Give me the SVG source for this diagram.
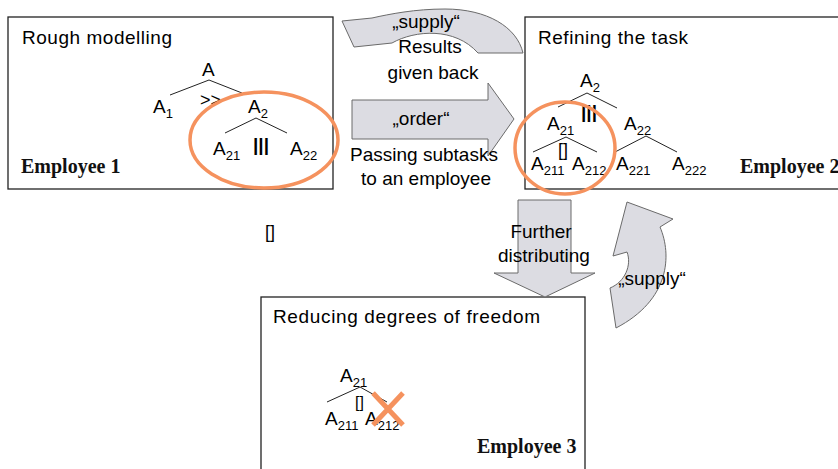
<svg xmlns="http://www.w3.org/2000/svg" width="838" height="469" viewBox="0 0 838 469">
<style>
.box{fill:#fff;stroke:#222;stroke-width:1.3}
.arrow{fill:#DCDCE2;stroke:#6a6a6a;stroke-width:1}
.sans{font-family:"Liberation Sans",Arial,sans-serif;fill:#000}
.title{font-size:19px}
.emp{font-family:"Liberation Serif","Times New Roman",serif;font-weight:bold;font-size:20px;fill:#111}
.t{font-size:19px}
.sub{font-size:13px}
.lbl{font-size:19px;text-anchor:middle}
.edge{stroke:#222;stroke-width:1;fill:none}
.ring{fill:none;stroke:#F5925E;stroke-width:3.5}
.cross{stroke:#F5925E;stroke-width:5;stroke-linecap:butt}
</style>
<rect width="838" height="469" fill="#fff"/>

<g id="box1">
<rect class="box" x="8" y="17" width="325" height="172"/>
<text class="sans title" x="22" y="44" textLength="150">Rough modelling</text>
<text class="emp" x="21" y="173">Employee 1</text>
<text class="sans t" x="202" y="76">A</text>
<path class="edge" d="M209,80 L170,95 M209,80 L242,93"/>
<text class="sans t" x="153" y="113">A<tspan class="sub" dy="5">1</tspan></text>
<text class="sans" font-size="18" x="200" y="106">&gt;&gt;</text>
<text class="sans t" x="248" y="113">A<tspan class="sub" dy="5">2</tspan></text>
<path class="edge" d="M256,118 L225,133 M256,118 L287,133"/>
<text class="sans t" x="213" y="155">A<tspan class="sub" dy="5">21</tspan></text>
<text class="sans t" font-weight="bold" x="253" y="151">|||</text>
<text class="sans t" x="290" y="155">A<tspan class="sub" dy="5">22</tspan></text>
</g>

<g id="box2">
<rect class="box" x="525" y="17" width="320" height="172"/>
<text class="sans title" x="538" y="44" textLength="150">Refining the task</text>
<text class="emp" x="740" y="173">Employee 2</text>
<text class="sans t" x="580" y="87">A<tspan class="sub" dy="5">2</tspan></text>
<path class="edge" d="M587,93 L558,107 M587,93 L617,108"/>
<text class="sans t" font-weight="bold" x="581" y="118">|||</text>
<text class="sans t" x="547" y="130">A<tspan class="sub" dy="5">21</tspan></text>
<text class="sans t" x="624" y="130">A<tspan class="sub" dy="5">22</tspan></text>
<path class="edge" stroke="#555" d="M566,137 L533,152 M566,137 L597,152 M646,136 L615,152 M646,136 L677,152"/>
<text class="sans" font-size="18" x="558" y="156">[]</text>
<text class="sans t" x="531" y="170">A<tspan class="sub" dy="5">211</tspan></text>
<text class="sans t" x="572" y="170">A<tspan class="sub" dy="5">212</tspan></text>
<text class="sans t" x="616" y="170">A<tspan class="sub" dy="5">221</tspan></text>
<text class="sans t" x="672" y="170">A<tspan class="sub" dy="5">222</tspan></text>
</g>

<g id="box3">
<rect class="box" x="261" y="297" width="324" height="180"/>
<text class="sans title" x="273" y="323" textLength="267">Reducing degrees of freedom</text>
<text class="emp" x="477" y="453">Employee 3</text>
<text class="sans t" x="340" y="382">A<tspan class="sub" dy="5">21</tspan></text>
<path class="edge" d="M360,387 L327,402 M360,387 L387,402"/>
<text class="sans" font-size="16" x="355" y="408">[]</text>
<text class="sans t" x="325" y="425">A<tspan class="sub" dy="5">211</tspan></text>
<text class="sans t" x="365" y="425">A<tspan class="sub" dy="5">212</tspan></text>
<path class="cross" d="M373,393 L403,425 M403,393 L373,425"/>
</g>

<g id="loose-bracket">
<text class="sans" font-size="18" x="265" y="238">[]</text>
</g>

<g id="connectors">
<path id="supply-top" class="arrow" d="M523,53 C517,27 487,9 445,9 C415,9 390,14 372,18 L342,21 L354,47 L392,43 C415,30 455,27 478,53 Z"/>
<path id="order" class="arrow" d="M352,100 L488,100 L488,83 L514,119 L488,156 L488,139 L352,139 Z"/>
<path id="further" class="arrow" d="M518,200 L571,200 L571,273 L595,273 L545,297 L494,273 L518,273 Z"/>
<path id="supply-right" class="arrow" d="M627,202 L673,219 L660,227 C672,255 670,300 616,328 L610,288 C625,282 632,265 627,252 L613,256 Z"/>
<text class="sans lbl" x="426" y="28">&#8222;supply&#8220;</text>
<text class="sans lbl" x="430" y="53">Results</text>
<text class="sans lbl" x="433" y="79">given back</text>
<text class="sans lbl" x="421" y="125">&#8222;order&#8220;</text>
<text class="sans lbl" x="424" y="161">Passing subtasks</text>
<text class="sans lbl" x="426" y="185">to an employee</text>
<text class="sans lbl" x="541" y="238">Further</text>
<text class="sans lbl" x="544" y="262">distributing</text>
<text class="sans lbl" x="652" y="285">&#8222;supply&#8220;</text>
</g>

<g id="highlights">
<ellipse class="ring" cx="264" cy="140" rx="74" ry="48"/>
<ellipse class="ring" cx="565" cy="148" rx="50" ry="46"/>
</g>
</svg>
